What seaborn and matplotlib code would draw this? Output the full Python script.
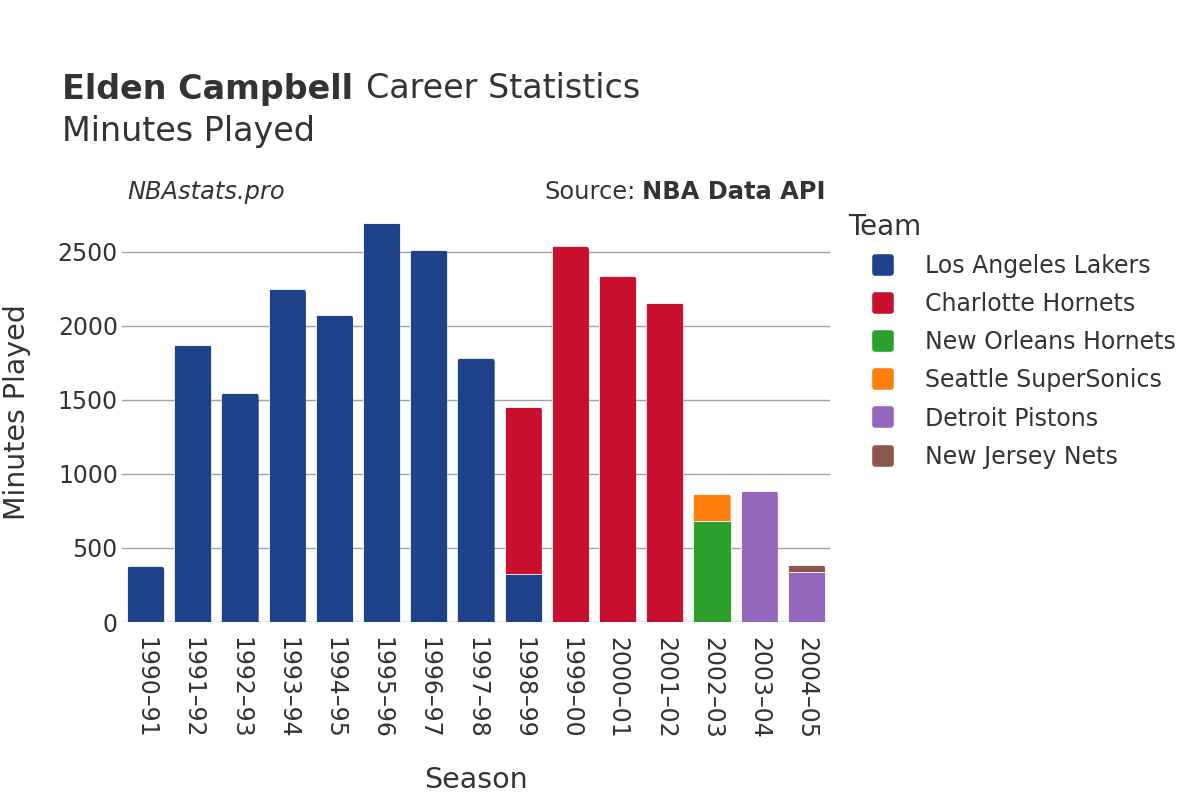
import numpy as np
import pandas as pd
import matplotlib
matplotlib.use("Agg")
import matplotlib.pyplot as plt
from matplotlib.lines import Line2D
from matplotlib.markers import MarkerStyle
from matplotlib.patches import FancyBboxPatch, Rectangle
import seaborn as sns

# ── data ─────────────────────────────────────────────────────────────────────
seasons = ["1990–91", "1991–92", "1992–93", "1993–94", "1994–95", "1995–96",
           "1996–97", "1997–98", "1998–99", "1999–00", "2000–01", "2001–02",
           "2002–03", "2003–04", "2004–05"]
teams = ["Los Angeles Lakers", "Charlotte Hornets", "New Orleans Hornets",
         "Seattle SuperSonics", "Detroit Pistons", "New Jersey Nets"]
colors = ["#1d428a", "#c8102e", "#2ca02c", "#ff7f0e", "#9467bd", "#8c564b"]

# one entry per (season, team) stint, in stacking order
stint_season = ["1990–91", "1991–92", "1992–93", "1993–94", "1994–95", "1995–96",
                "1996–97", "1997–98", "1998–99", "1998–99", "1999–00", "2000–01",
                "2001–02", "2002–03", "2002–03", "2003–04", "2004–05", "2004–05"]
stint_team = ["Los Angeles Lakers"] * 9 + ["Charlotte Hornets"] * 4 + \
             ["New Orleans Hornets", "Seattle SuperSonics",
              "Detroit Pistons", "Detroit Pistons", "New Jersey Nets"]
stint_minutes = [375, 1870, 1545, 2247, 2072, 2696, 2510, 1780, 323, 1130,
                 2535, 2333, 2155, 683, 181, 887, 337, 49]

df = pd.DataFrame({"season": stint_season, "team": stint_team,
                   "minutes": stint_minutes})
df["top"] = df.groupby("season")["minutes"].cumsum()
df["layer"] = df.groupby("season").cumcount()
totals = df.groupby("season")["top"].max()

TXT = "#333333"
FS_TICK = 17

sns.set_theme(style="white")
plt.rcParams["font.family"] = ["DejaVu Sans"]

fig = plt.figure(figsize=(12, 8), dpi=100, facecolor="white")
ax = fig.add_axes([0.1017, 0.2225, 0.59, 0.525])

palette = dict(zip(teams, colors))
# draw upper layers first so lower segments sit on top of them
for layer in sorted(df["layer"].unique(), reverse=True):
    sub = df[df["layer"] == layer]
    sns.barplot(data=sub, x="season", y="top", hue="team", order=seasons,
                hue_order=teams, palette=palette, dodge=False, width=0.79,
                saturation=1, legend=False, ax=ax, zorder=3,
                edgecolor="white", linewidth=0.6)

ax.set_ylim(0, 2835)
ax.set_xlim(-0.5, len(seasons) - 0.5)

# rounded top corners on the outermost segment of each bar
r_x = 0.085          # corner radius in x units (~4 px)
aspect = 318         # y units per x unit on screen
for p in ax.patches:
    if not isinstance(p, Rectangle):
        continue
    i = int(round(p.get_x() + p.get_width() / 2))
    if i < 0 or i >= len(seasons):
        continue
    if abs(p.get_height() - totals[seasons[i]]) < 1e-6:
        clip = FancyBboxPatch((p.get_x(), -1000), p.get_width(),
                              p.get_height() + 1000,
                              boxstyle=f"round,pad=0,rounding_size={r_x}",
                              mutation_aspect=aspect, transform=ax.transData)
        p.set_clip_path(clip)

ax.set_yticks([0, 500, 1000, 1500, 2000, 2500])
ax.yaxis.grid(True, color="#a0a0a0", linewidth=1, zorder=0)
ax.axhline(0, color="#e8e8e8", linewidth=2.5, zorder=2)
for s in ax.spines.values():
    s.set_visible(False)
ax.tick_params(axis="y", labelsize=FS_TICK, colors=TXT, length=0, pad=3)
ax.tick_params(axis="x", labelsize=FS_TICK, colors=TXT, length=0, pad=11)
plt.setp(ax.get_xticklabels(), rotation=-90, va="top", ha="center")
ax.set_xlabel("Season", fontsize=20.5, color=TXT)
ax.set_ylabel("Minutes Played", fontsize=20.5, color=TXT)
ax.xaxis.set_label_coords(0.5, -0.343)
ax.yaxis.set_label_coords(-0.128, 0.5)

# ── titles ──────────────────────────────────────────────────────────────────
t1 = fig.text(62 / 1200, 1 - 89 / 800, "Elden Campbell", fontsize=24,
              fontweight="bold", color=TXT, va="center", ha="left")
fig.canvas.draw()
bb = t1.get_window_extent()
fig.text(bb.x1 / 1200 + 0.0105, 1 - 89 / 800, "Career Statistics", fontsize=24,
         color=TXT, va="center", ha="left")
fig.text(62 / 1200, 1 - 132 / 800, "Minutes Played", fontsize=24,
         color=TXT, va="center", ha="left")
fig.text(127 / 1200, 1 - 192 / 800, "NBAstats.pro", fontsize=17.4,
         style="italic", color=TXT, va="center", ha="left")
s2 = fig.text(826 / 1200, 1 - 192 / 800, "NBA Data API", fontsize=17.4,
              fontweight="bold", color=TXT, va="center", ha="right")
fig.canvas.draw()
bb2 = s2.get_window_extent()
fig.text(bb2.x0 / 1200 - 0.006, 1 - 192 / 800, "Source:", fontsize=17.4,
         color=TXT, va="center", ha="right")

# ── legend ──────────────────────────────────────────────────────────────────
fig.text(848 / 1200, 1 - 227 / 800, "Team", fontsize=20, color=TXT,
         va="center", ha="left")
sq = MarkerStyle("s", joinstyle="round")
handles = [Line2D([], [], linestyle="", marker=sq, markersize=12,
                  markerfacecolor=c, markeredgecolor=c, markeredgewidth=4,
                  label=t) for t, c in zip(teams, colors)]
leg = fig.legend(handles=handles, loc="upper left",
                 bbox_to_anchor=(872 / 1200, 1 - 254 / 800), frameon=False,
                 fontsize=FS_TICK, handlelength=0.95, handletextpad=1.3,
                 labelspacing=0.6, borderaxespad=0, borderpad=0)
for t in leg.get_texts():
    t.set_color(TXT)

fig.savefig("out.png", dpi=100, facecolor="white")
